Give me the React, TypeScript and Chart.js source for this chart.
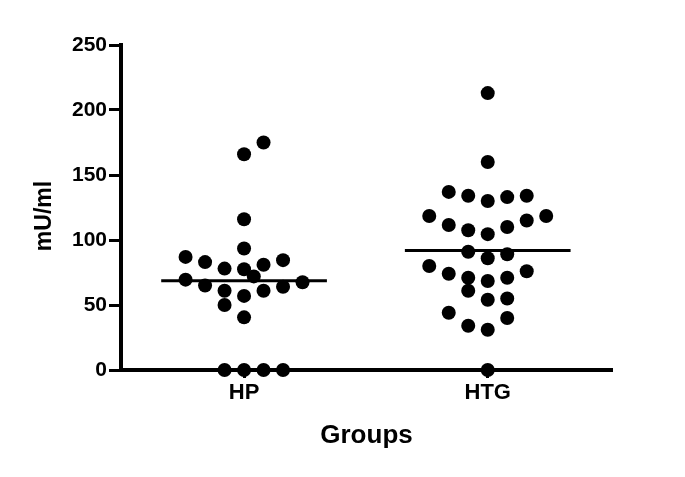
import React, { useEffect, useRef } from "react";
import { Chart, registerables } from "chart.js";

Chart.register(...registerables);

// ---- data ----
const groups = ["HP", "HTG"];
const hpValues = [175, 166, 116, 93.5, 87, 83, 78, 77.5, 81, 84.5, 69.5, 72, 67.5, 65, 61, 61, 64, 57, 50, 40.5, 0, 0, 0, 0];
const htgValues = [213, 160, 137, 134, 130, 133, 134, 118.5, 111.5, 107.5, 104.5, 110, 115, 118.5, 91, 86, 89, 80, 74, 71, 68.5, 71, 76, 61, 54, 55, 44, 40, 34, 31, 0];
const yTicks = [0, 50, 100, 150, 200, 250];
const yTitle = "mU/ml";
const xTitle = "Groups";

// ---- beeswarm layout (slot offsets, not data) ----
const hpSlots = [1, 0, 0, 0, -3, -2, -1, 0, 1, 2, -3, 0.5, 3, -2, -1, 1, 2, 0, -1, 0, -1, 0, 1, 2];
const htgSlots = [0, 0, -2, -1, 0, 1, 2, -3, -2, -1, 0, 1, 2, 3, -1, 0, 1, -3, -2, -1, 0, 1, 2, -1, 0, 1, -2, 1, -1, 0, 0];
const SLOT = 0.08;
const MEAN_HALF = 0.34;

const mean = (a: number[]) => a.reduce((s, v) => s + v, 0) / a.length;

const FONT = "'Liberation Sans', Arial, sans-serif";

const yTitlePlugin = {
  id: "yTitleCustom",
  afterDraw(chart: any) {
    const ctx = chart.ctx;
    ctx.save();
    ctx.translate(45, 216);
    ctx.rotate(-Math.PI / 2);
    ctx.fillStyle = "#000";
    ctx.font = `bold 23px ${FONT}`;
    ctx.textAlign = "center";
    ctx.textBaseline = "middle";
    ctx.fillText(yTitle, 0, 0);
    ctx.restore();
  },
};

export default function App() {
  const ref = useRef<HTMLCanvasElement | null>(null);

  useEffect(() => {
    if (!ref.current) return;
    const series = [hpValues, htgValues];
    const slots = [hpSlots, htgSlots];
    const pointSets = series.map((vals, g) => ({
      type: "scatter" as const,
      label: groups[g],
      data: vals.map((v, i) => ({ x: g + 1 + slots[g][i] * SLOT, y: v })),
      backgroundColor: "#000",
      borderWidth: 0,
      pointRadius: 7,
      pointHoverRadius: 7,
      clip: false as any,
      order: 1,
    }));
    const meanSets = series.map((vals, g) => {
      const m = mean(vals);
      return {
        type: "line" as const,
        label: groups[g] + " mean",
        data: [
          { x: g + 1 - MEAN_HALF, y: m },
          { x: g + 1 + MEAN_HALF, y: m },
        ],
        borderColor: "#000",
        borderWidth: 3,
        pointRadius: 0,
        showLine: true,
        fill: false,
        order: 2,
      };
    });

    const chart = new Chart(ref.current, {
      type: "scatter",
      data: { datasets: [...meanSets, ...pointSets] as any },
      plugins: [yTitlePlugin],
      options: {
        animation: false,
        responsive: false,
        events: [],
        layout: { padding: { top: 45, right: 73, left: 0, bottom: 0 } },
        plugins: { legend: { display: false }, tooltip: { enabled: false } },
        scales: {
          x: {
            type: "linear",
            min: 0.495,
            max: 2.51,
            afterBuildTicks: (s: any) => {
              s.ticks = groups.map((_, i) => ({ value: i + 1 }));
            },
            afterFit: (s: any) => {
              s.height = 107;
            },
            ticks: {
              callback: (v: any) => groups[Math.round(Number(v)) - 1] ?? "",
              color: "#000",
              font: { family: FONT, size: 22, weight: "bold" },
              padding: 2,
              maxRotation: 0,
              autoSkip: false,
            },
            grid: {
              drawOnChartArea: false,
              drawTicks: true,
              tickLength: 8,
              tickWidth: 3,
              tickColor: "#000",
            },
            border: { display: true, color: "#000", width: 4 },
            title: {
              display: true,
              text: xTitle,
              color: "#000",
              font: { family: FONT, size: 26, weight: "bold" },
              padding: { top: 0, bottom: 26 },
            },
          },
          y: {
            type: "linear",
            min: 0,
            max: 250,
            afterBuildTicks: (s: any) => {
              s.ticks = yTicks.map((v) => ({ value: v }));
            },
            afterFit: (s: any) => {
              s.width = 121;
            },
            ticks: {
              color: "#000",
              font: { family: FONT, size: 21, weight: "bold" },
              padding: 2,
            },
            grid: {
              drawOnChartArea: false,
              drawTicks: true,
              tickLength: 12,
              tickWidth: 3,
              tickColor: "#000",
            },
            border: { display: true, color: "#000", width: 4 },
            title: { display: false },
          },
        },
      },
    });
    return () => chart.destroy();
  }, []);

  return (
    <div style={{ position: "absolute", left: 0, top: 0, width: 685, height: 477, background: "#fff" }}>
      <canvas ref={ref} width={685} height={477} style={{ display: "block" }} />
    </div>
  );
}
